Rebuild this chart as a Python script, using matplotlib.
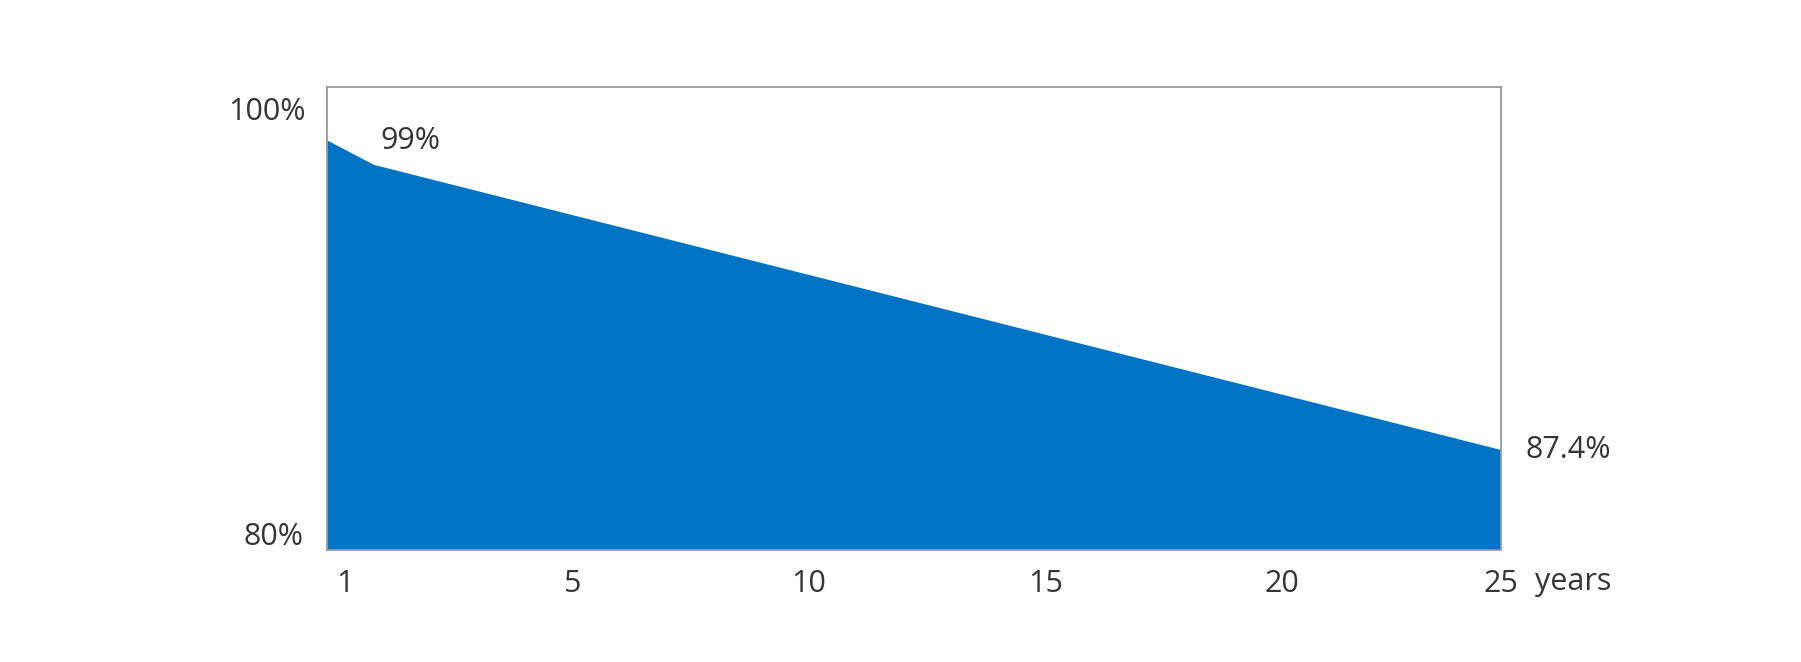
import matplotlib
matplotlib.use("Agg")
import matplotlib.pyplot as plt
from matplotlib.transforms import ScaledTranslation

# ---- data ----
years = [0, 1, 25]
output_pct = [100, 99, 87.4]
xtick_years = [1, 5, 10, 15, 20, 25]
xtick_labels = ["1", "5", "10", "15", "20", "25"]
ylabel_texts = ["100%", "80%"]
point_labels = ["99%", "87.4%"]
unit_label = "years"

FILL = "#0073C4"
TXT = "#363636"
FONT = ["Open Sans", "DejaVu Sans"]
FS = 22

plt.rcParams["font.family"] = FONT

fig = plt.figure(figsize=(18.01, 6.62), dpi=100)
ax = fig.add_axes([0.1816, 0.1692, 0.6518, 0.6994])

ax.fill_between(years, output_pct, 0, color=FILL, linewidth=0)
ax.set_xlim(0, 25)
ax.set_ylim(83.33, 102.17)

for s in ax.spines.values():
    s.set_color("#9a9a9a")
    s.set_linewidth(1.3)

ax.set_yticks([])
ax.set_xticks(xtick_years)
ax.set_xticklabels(xtick_labels, fontsize=FS, color=TXT)
ax.tick_params(axis="x", length=0, pad=14)
# nudge labels to match the reference layout
shifts = [-0.29, 0.10, 0.12, 0.14, 0.16, 0.0]
for lbl, dx in zip(ax.get_xticklabels(), shifts):
    lbl.set_transform(lbl.get_transform() + ScaledTranslation(dx, 0, fig.dpi_scale_trans))

# y-end labels (axes fraction)
ax.text(-0.018, 0.946, ylabel_texts[0], transform=ax.transAxes, ha="right", va="center",
        fontsize=FS, color=TXT)
ax.text(-0.02, 0.028, ylabel_texts[1], transform=ax.transAxes, ha="right", va="center",
        fontsize=FS, color=TXT)

# point labels
ax.annotate(point_labels[0], xy=(years[1], output_pct[1]), xytext=(26, 17),
            textcoords="offset points", ha="center", va="center", fontsize=FS, color=TXT)
ax.annotate(point_labels[1], xy=(years[2], output_pct[2]), xytext=(18, 0),
            textcoords="offset points", ha="left", va="center", fontsize=FS, color=TXT,
            annotation_clip=False)

# unit label
ax.text(1.029, -0.069, unit_label, transform=ax.transAxes, ha="left", va="center",
        fontsize=FS, color=TXT)

fig.savefig("out.png", dpi=100, facecolor="white")
